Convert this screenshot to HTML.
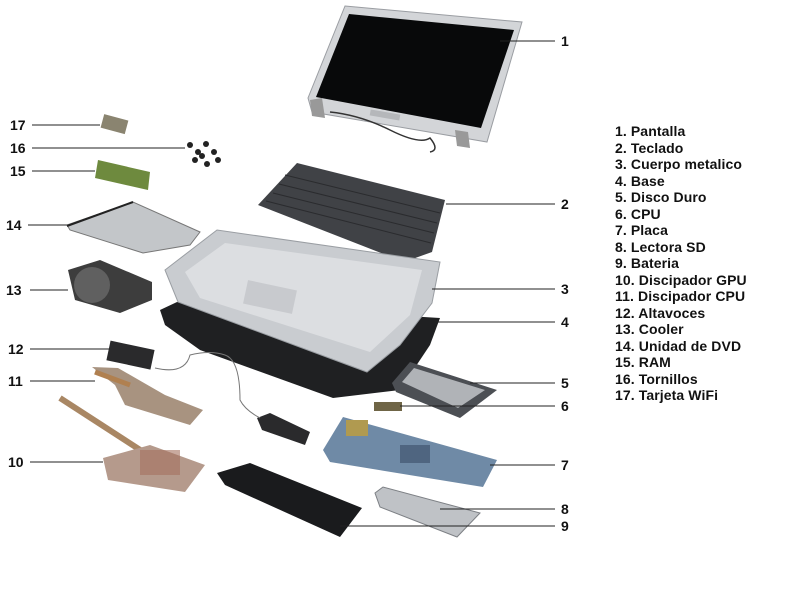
<!DOCTYPE html>
<html><head><meta charset="utf-8"><style>
html,body{margin:0;padding:0;background:#fff;}
body{width:803px;height:597px;overflow:hidden;position:relative;font-family:"Liberation Sans",sans-serif;}
.lg{position:absolute;left:615px;top:123px;font-size:14px;line-height:16.5px;color:#111;font-weight:bold;letter-spacing:0.1px;}
</style></head><body>
<svg width="803" height="597" style="position:absolute;left:0;top:0" font-family="Liberation Sans, sans-serif" font-size="14" font-weight="bold" fill="#111">
<!-- screen -->
<polygon points="345,6 522,22 487,142 312,112 308,98" fill="#d3d5d8" stroke="#9a9da2"/>
<polygon points="349,14 514,30 481,128 316,97" fill="#08090a"/>
<polygon points="310,100 322,98 325,118 312,116" fill="#999"/>
<polygon points="455,130 468,132 470,148 457,146" fill="#999"/>
<path d="M330,112 Q360,115 390,130 T430,138 Q440,150 430,152" stroke="#333" fill="none" stroke-width="1.5"/>
<rect x="370" y="112" width="30" height="6" fill="#b5b7ba" transform="rotate(10 385 115)"/>
<!-- keyboard -->
<polygon points="297,163 445,200 432,252 404,262 258,205" fill="#404246"/>
<g stroke="#2a2b2e" stroke-width="1">
<line x1="285" y1="175" x2="440" y2="213"/><line x1="279" y1="184" x2="437" y2="223"/>
<line x1="273" y1="193" x2="434" y2="233"/><line x1="266" y1="201" x2="431" y2="243"/>
</g>
<!-- base black -->
<polygon points="160,310 177,302 440,318 430,345 400,390 333,398 200,350 165,325" fill="#1f2022"/>
<!-- palmrest -->
<polygon points="165,270 217,230 440,262 432,303 400,345 367,372 178,302" fill="#c9ccd0" stroke="#9a9ea3"/>
<polygon points="185,272 225,243 422,270 410,315 370,352 200,298" fill="#dcdee1"/>
<rect x="245" y="285" width="50" height="24" fill="#c8cace" transform="rotate(12 270 297)"/>
<!-- hdd -->
<polygon points="392,383 410,362 497,390 460,418 396,392" fill="#4c4f54"/>
<polygon points="402,382 414,368 485,390 458,408" fill="#b0b3b7"/>
<!-- cpu -->
<rect x="374" y="402" width="28" height="9" fill="#6f6546"/>
<!-- motherboard -->
<polygon points="323,450 343,417 497,460 483,487 330,462" fill="#6f8aa6"/>
<rect x="346" y="420" width="22" height="16" fill="#b09a50"/>
<rect x="400" y="445" width="30" height="18" fill="#4f6580"/>
<!-- battery -->
<polygon points="217,473 250,463 362,508 340,537 225,485" fill="#1a1b1d"/>
<!-- sd reader -->
<polygon points="375,493 383,487 480,513 457,537 380,507" fill="#bfc2c6" stroke="#7d8085"/>
<!-- gpu heatsink -->
<line x1="60" y1="398" x2="148" y2="455" stroke="#a98764" stroke-width="6"/>
<polygon points="103,458 150,445 205,465 185,492 108,480" fill="#b59a8c"/>
<rect x="140" y="450" width="40" height="25" fill="#a5715f" opacity="0.6"/>
<!-- cpu heatsink -->
<polygon points="92,367 118,368 165,395 203,410 190,425 125,405 115,385" fill="#a89380"/>
<line x1="95" y1="372" x2="130" y2="385" stroke="#b08050" stroke-width="5"/>
<!-- speakers -->
<rect x="108" y="345" width="45" height="20" fill="#2a2a2c" transform="rotate(12 130 355)"/>
<polygon points="257,418 270,413 310,432 305,445 262,430" fill="#2a2a2c"/>
<path d="M155,368 Q185,375 190,355 Q210,350 225,355 T240,400 Q245,410 260,418" stroke="#777" fill="none"/>
<!-- fan -->
<polygon points="68,270 100,260 152,282 152,300 120,313 75,300" fill="#3d3d3d"/>
<circle cx="92" cy="285" r="18" fill="#606060"/>
<!-- dvd -->
<polygon points="67,225 133,202 200,232 190,245 143,253 70,230" fill="#c3c6c9" stroke="#777"/>
<line x1="67" y1="226" x2="133" y2="202" stroke="#222" stroke-width="2"/>
<!-- ram -->
<polygon points="98,160 150,172 148,190 95,178" fill="#6e8a3e"/>
<!-- screws -->
<g fill="#222"><circle cx="190" cy="145" r="3"/><circle cx="198" cy="152" r="3"/><circle cx="206" cy="144" r="3"/><circle cx="214" cy="152" r="3"/><circle cx="218" cy="160" r="3"/><circle cx="195" cy="160" r="3"/><circle cx="207" cy="164" r="3"/><circle cx="202" cy="156" r="3"/></g>
<!-- wifi -->
<rect x="102" y="117" width="25" height="14" fill="#8a8470" transform="rotate(15 114 124)"/>
<!-- leader lines -->
<g stroke="#222" stroke-width="1">
<line x1="500" y1="41" x2="555" y2="41"/>
<line x1="446" y1="204" x2="555" y2="204"/>
<line x1="432" y1="289" x2="555" y2="289"/>
<line x1="435" y1="322" x2="555" y2="322"/>
<line x1="470" y1="383" x2="555" y2="383"/>
<line x1="400" y1="406" x2="555" y2="406"/>
<line x1="490" y1="465" x2="555" y2="465"/>
<line x1="440" y1="509" x2="555" y2="509"/>
<line x1="340" y1="526" x2="555" y2="526"/>
<line x1="32" y1="125" x2="100" y2="125"/>
<line x1="32" y1="148" x2="185" y2="148"/>
<line x1="32" y1="171" x2="95" y2="171"/>
<line x1="28" y1="225" x2="68" y2="225"/>
<line x1="30" y1="290" x2="68" y2="290"/>
<line x1="30" y1="349" x2="110" y2="349"/>
<line x1="30" y1="381" x2="95" y2="381"/>
<line x1="30" y1="462" x2="103" y2="462"/>
</g>
<g>
<text x="561" y="46">1</text><text x="561" y="209">2</text><text x="561" y="294">3</text>
<text x="561" y="327">4</text><text x="561" y="388">5</text><text x="561" y="411">6</text>
<text x="561" y="470">7</text><text x="561" y="514">8</text><text x="561" y="531">9</text>
<text x="10" y="130">17</text><text x="10" y="153">16</text><text x="10" y="176">15</text>
<text x="6" y="230">14</text><text x="6" y="295">13</text><text x="8" y="354">12</text>
<text x="8" y="386">11</text><text x="8" y="467">10</text>
</g>
</svg>
<div class="lg">1. Pantalla<br>2. Teclado<br>3. Cuerpo metalico<br>4. Base<br>5. Disco Duro<br>6. CPU<br>7. Placa<br>8. Lectora SD<br>9. Bateria<br>10. Discipador GPU<br>11. Discipador CPU<br>12. Altavoces<br>13. Cooler<br>14. Unidad de DVD<br>15. RAM<br>16. Tornillos<br>17. Tarjeta WiFi</div>
</body></html>
